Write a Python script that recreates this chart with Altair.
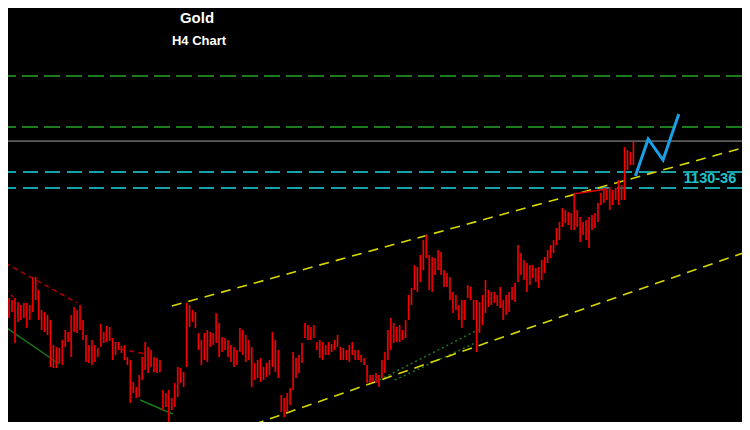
import altair as alt
import pandas as pd

# ---- price bars (H4), bar index 0..212, high / low in USD ----
high = [
    1088.0, 1088.75, 1088.0, 1088.75, 1087.25, 1086.1, 1086.9, 1086.9, 1086.1, 1096.6,
    1096.6, 1091.75, 1084.25, 1083.5, 1082.4, 1080.5, 1071.1, 1070.4, 1070.0, 1073.0,
    1076.75, 1076.0, 1082.4, 1085.4, 1084.25, 1086.1, 1080.5, 1074.9, 1071.1, 1073.0,
    1071.1, 1070.0, 1079.0, 1076.0, 1078.25, 1077.9, 1073.75, 1072.25, 1072.25, 1070.75,
    1071.1, 1066.6, 1065.5, 1057.25, 1055.4, 1059.9, 1066.6, 1072.25, 1070.4, 1069.25,
    1066.6, 1066.25, 1065.5, 1054.25, 1053.1, 1054.25, 1051.25, 1056.9, 1062.9, 1062.5,
    1061.0, 1086.9, 1086.1, 1084.25, 1083.5, 1075.6, 1073.0, 1075.6, 1076.75, 1076.0,
    1075.6, 1083.1, 1079.4, 1074.1, 1073.75, 1073.0, 1071.1, 1070.4, 1069.25, 1077.5,
    1076.75, 1074.9, 1073.0, 1070.4, 1064.4, 1065.5, 1066.25, 1062.9, 1064.4, 1065.5,
    1076.0, 1073.0, 1069.25, 1052.4, 1051.25, 1053.1, 1055.0, 1068.5, 1066.25, 1067.4,
    1071.9, 1079.4, 1078.6, 1077.9, 1078.6, 1072.25, 1073.0, 1072.25, 1071.1, 1072.25,
    1071.5, 1073.0, 1074.9, 1070.4, 1070.0, 1069.25, 1071.1, 1072.25, 1069.25, 1069.25,
    1067.4, 1066.25, 1063.6, 1059.9, 1059.9, 1060.6, 1059.9, 1065.5, 1068.5, 1076.75,
    1081.25, 1079.4, 1077.9, 1078.6, 1076.75, 1080.5, 1089.9, 1092.5, 1101.1, 1100.4,
    1104.9, 1110.5, 1112.4, 1104.9, 1104.1, 1103.75, 1106.75, 1106.0, 1099.25, 1098.1,
    1096.6, 1091.0, 1089.9, 1086.1, 1088.0, 1088.0, 1093.6, 1092.9, 1088.0, 1088.0,
    1087.25, 1089.9, 1095.5, 1091.75, 1091.0, 1091.0, 1089.9, 1092.9, 1088.0, 1089.9,
    1091.0, 1092.9, 1094.4, 1108.6, 1105.6, 1103.0, 1101.9, 1101.1, 1101.1, 1100.0,
    1100.4, 1103.0, 1104.1, 1106.75, 1108.6, 1110.5, 1115.0, 1117.25, 1122.5, 1121.75,
    1121.0, 1120.6, 1127.4, 1121.75, 1119.1, 1117.25, 1118.0, 1119.1, 1119.9, 1120.6,
    1124.4, 1128.1, 1130.0, 1129.25, 1130.4, 1129.25, 1130.0, 1133.0, 1131.1, 1145.4,
    1144.25, 1143.5, 1147.25,
]
low = [
    1082.4, 1081.25, 1083.5, 1071.9, 1079.75, 1080.5, 1081.25, 1077.5, 1080.5, 1083.5,
    1088.0, 1080.5, 1076.75, 1076.0, 1074.9, 1062.9, 1062.5, 1062.5, 1064.4, 1063.6,
    1070.4, 1072.25, 1066.6, 1076.0, 1075.6, 1076.75, 1073.0, 1064.75, 1064.4, 1063.6,
    1064.75, 1066.6, 1070.4, 1071.9, 1072.25, 1072.6, 1065.5, 1067.4, 1069.25, 1068.1,
    1065.5, 1063.6, 1049.4, 1053.1, 1051.25, 1051.6, 1058.0, 1061.75, 1060.6, 1062.9,
    1061.0, 1060.6, 1061.0, 1046.75, 1047.9, 1042.25, 1046.75, 1047.9, 1051.6, 1056.9,
    1055.4, 1062.9, 1077.9, 1079.75, 1077.5, 1069.25, 1063.6, 1065.5, 1064.75, 1070.4,
    1071.1, 1071.9, 1066.6, 1068.5, 1069.25, 1066.6, 1064.75, 1062.9, 1063.6, 1068.5,
    1067.4, 1064.75, 1065.5, 1055.4, 1058.0, 1058.75, 1057.25, 1058.0, 1059.1, 1059.9,
    1062.9, 1061.0, 1058.75, 1046.0, 1044.1, 1046.0, 1048.6, 1054.25, 1058.75, 1060.6,
    1064.4, 1073.75, 1073.0, 1073.0, 1073.75, 1069.25, 1066.25, 1065.5, 1067.4, 1067.4,
    1068.5, 1069.25, 1070.4, 1065.5, 1065.5, 1065.5, 1064.75, 1067.4, 1065.5, 1065.5,
    1064.75, 1063.6, 1056.9, 1056.9, 1057.25, 1056.9, 1055.4, 1058.75, 1060.6, 1065.5,
    1069.25, 1071.9, 1072.25, 1072.25, 1073.0, 1073.75, 1080.5, 1086.1, 1091.75, 1091.0,
    1094.75, 1099.25, 1103.75, 1091.75, 1091.0, 1097.4, 1099.25, 1097.4, 1092.9, 1092.9,
    1088.0, 1083.1, 1084.25, 1080.5, 1077.5, 1080.5, 1088.75, 1088.0, 1080.5, 1068.5,
    1075.6, 1078.6, 1083.1, 1085.4, 1086.1, 1086.9, 1085.75, 1085.0, 1080.5, 1082.4,
    1083.5, 1088.0, 1087.25, 1094.75, 1097.4, 1095.5, 1091.0, 1093.6, 1096.25, 1094.75,
    1092.5, 1095.5, 1098.1, 1101.9, 1103.75, 1105.6, 1108.6, 1110.5, 1115.4, 1116.9,
    1116.1, 1114.25, 1114.25, 1115.4, 1109.75, 1112.4, 1110.5, 1107.5, 1114.25, 1115.0,
    1117.25, 1123.6, 1124.4, 1125.5, 1121.75, 1123.6, 1125.5, 1123.6, 1125.5, 1125.5,
    1136.75, 1138.6, 1138.6,
]
bar_index = list(range(len(high)))

# ---- horizontal levels ----
green_levels = [1172.0, 1152.9]
cyan_levels = [1136.0, 1130.0]
grey_levels = [1147.6]

# ---- trend lines (bar index, price) ----
channel_seg = ["upper", "upper", "lower", "lower"]
channel_t = [56.0, 250.0, 78.33, 250.0]
channel_p = [1085.75, 1145.4, 1039.25, 1106.0]

red_dash_seg = ["a", "a", "b", "b", "c", "c"]
red_dash_t = [-0.33, 24.0, -0.33, 2.33, 38.67, 47.33]
red_dash_p = [1101.9, 1086.9, 1092.5, 1089.1, 1069.6, 1067.75]

green_solid_seg = ["a", "a", "b", "b"]
green_solid_t = [-0.33, 18.0, 45.33, 56.33]
green_solid_p = [1077.9, 1064.0, 1050.5, 1045.25]

green_dot_seg = ["a", "a", "b", "b"]
green_dot_t = [124.67, 160.67, 131.33, 160.67]
green_dot_p = [1057.25, 1077.5, 1058.0, 1073.0]

red_solid_t = [191.67, 203.0]
red_solid_p = [1127.75, 1129.6]

path_t = [212.67, 217.0, 222.0, 227.33]
path_p = [1134.5, 1148.4, 1140.5, 1157.75]

zone_label = "1130-36"

X_DOMAIN = [2.333, 247.0]
Y_DOMAIN = [1042.25, 1197.5]

xs = alt.Scale(domain=X_DOMAIN, nice=False, zero=False)
ys = alt.Scale(domain=Y_DOMAIN, nice=False, zero=False)

bars = pd.DataFrame({"t": bar_index, "high": high, "low": low})
X = alt.X("t:Q", scale=xs, axis=None)


def seg_layer(t, p, seg, **kw):
    df = pd.DataFrame({"t": t, "p": p, "seg": seg})
    return alt.Chart(df).mark_line(clip=True, **kw).encode(
        x=alt.X("t:Q", scale=xs, axis=None),
        y=alt.Y("p:Q", scale=ys, axis=None),
        detail="seg:N",
    )


def level_layer(vals, **kw):
    df = pd.DataFrame({"p": vals})
    return alt.Chart(df).mark_rule(**kw).encode(y=alt.Y("p:Q", scale=ys, axis=None))


green_lv = level_layer(green_levels, color="#1d7a1d", strokeWidth=2, strokeDash=[16, 6])
cyan_lv = level_layer(cyan_levels, color="#17a2aa", strokeWidth=2, strokeDash=[15, 7])
grey_lv = level_layer(grey_levels, color="#a0a0a8", strokeWidth=1)

body = alt.Chart(bars).mark_bar(size=2.0, color="#8a0000", clip=True).encode(
    x=X, y=alt.Y("low:Q", scale=ys, axis=None), y2="high:Q"
)
wick = alt.Chart(bars).mark_rule(color="#ff0000", strokeWidth=1.1, clip=True).encode(
    x=X, y=alt.Y("low:Q", scale=ys, axis=None), y2="high:Q"
)

channel = seg_layer(channel_t, channel_p, channel_seg, color="#d8d800",
                    strokeWidth=1.6, strokeDash=[10, 7])
red_dash = seg_layer(red_dash_t, red_dash_p, red_dash_seg, color="#b40000",
                     strokeWidth=1.5, strokeDash=[5, 4])
green_solid = seg_layer(green_solid_t, green_solid_p, green_solid_seg,
                        color="#1a7a1a", strokeWidth=1.5)
green_dot = seg_layer(green_dot_t, green_dot_p, green_dot_seg, color="#1c7a1c",
                      strokeWidth=1.5, strokeDash=[2, 3])
red_solid = seg_layer(red_solid_t, red_solid_p, ["a", "a"], color="#e00000", strokeWidth=1.5)
path = seg_layer(path_t, path_p, ["a"] * 4, color="#1aa0e6", strokeWidth=3)

label = alt.Chart(pd.DataFrame({"txt": [zone_label]})).mark_text(
    color="#1cc3cc", font="Liberation Sans", fontSize=14.5, fontWeight="bold",
    align="center", baseline="middle"
).encode(x=alt.value(702), y=alt.value(171), text="txt:N")

title1 = alt.Chart(pd.DataFrame({"txt": ["Gold"]})).mark_text(
    color="#ffffff", font="Liberation Sans", fontSize=15, fontWeight="bold",
    align="center", baseline="middle"
).encode(x=alt.value(189), y=alt.value(10), text="txt:N")
title2 = alt.Chart(pd.DataFrame({"txt": ["H4 Chart"]})).mark_text(
    color="#ffffff", font="Liberation Sans", fontSize=13, fontWeight="bold",
    align="center", baseline="middle"
).encode(x=alt.value(191), y=alt.value(33), text="txt:N")

chart = alt.layer(
    green_lv, cyan_lv, grey_lv, red_dash, green_solid, green_dot, channel,
    body, wick, red_solid, path, label, title1, title2
).properties(
    width=734, height=414, background="#000000", padding=0,
    autosize=alt.AutoSizeParams(type="none")
).configure_view(stroke=None, fill="#000000")

chart.save("out.html", embed_options={"renderer": "svg", "actions": False})
